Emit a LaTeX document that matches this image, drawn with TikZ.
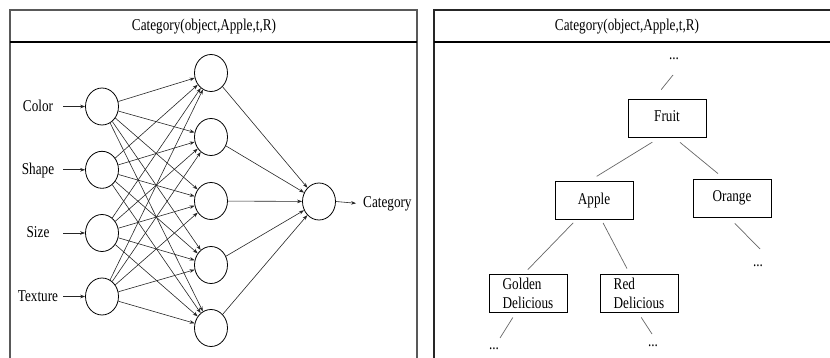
\documentclass[tikz,border=0pt]{standalone}
\usepackage{fontspec}
\setmainfont{Liberation Serif}[FakeStretch=0.8]
\usetikzlibrary{arrows.meta,shapes.geometric,positioning}

\tikzset{
  neuron/.style={draw, ellipse, minimum width=33pt, minimum height=37pt, inner sep=0pt, line width=0.8pt},
  wire/.style={-{Stealth[length=5pt,width=3.6pt]}, line width=0.6pt, black!85},
  panel/.style={draw=black!65, line width=1.2pt},
  headline/.style={line width=1.8pt},
  catbox/.style={draw, line width=0.9pt, minimum width=78pt, minimum height=38pt, inner sep=0pt},
  onebox/.style={catbox, text height=11pt, text depth=3.5pt},
  branch/.style={draw=black!60, line width=0.7pt},
  dots/.style={anchor=base, inner sep=0pt}
}

\begin{document}
\begin{tikzpicture}[x=1pt, y=-1pt, every node/.style={font=\fontsize{16.5}{19}\selectfont}]
\useasboundingbox (0,0) rectangle (830,358);

% the two panels
\draw[panel] (10,358) -- (10,10) -- (417,10) -- (417,358);
\draw[headline] (10,42) -- (417,42);
\draw[panel, draw=black!85] (434,358) -- (434,10) -- (830,10);
\draw[headline] (434,42) -- (830,42);
\node[anchor=base] (hdrNet) at (204,30.5) {Category(object,Apple,t,R)};
\node[anchor=base] (hdrTree) at (627,30.5) {Category(object,Apple,t,R)};

% neural net
\foreach \name/\y [count=\i] in {Color/106.5, Shape/169.8, Size/233, Texture/296.5} {
  \node[neuron] (in\i) at (102,\y) {};
  \node[anchor=base] (lbl\i) at (38,\y+5) {\name};
  \coordinate (tail\i) at (63,\y);
  \draw[wire] (tail\i) -- (in\i);
}
\foreach \y [count=\j] in {73,137,201,265,328}
  \node[neuron] (hid\j) at (211,\y) {};
\node[neuron] (out) at (319,201.5) {};
\node[anchor=base west, inner sep=1pt] (cat) at (362,207.5) {Category};

\foreach \i in {1,...,4}
  \foreach \j in {1,...,5}
    \draw[wire] (in\i) -- (hid\j);
\foreach \j in {1,...,5}
  \draw[wire] (hid\j) -- (out);
\draw[wire, shorten >=6pt] (out.east) -- (cat.west);

% category tree
\node[onebox] (fruit) at (667,118) {Fruit};
\node[onebox] (apple) at (594,200.5) {Apple};
\node[onebox] (orange) at (732,198) {Orange};
\node[catbox, align=left] (golden) at (528,293) {Golden\\Delicious};
\node[catbox, align=left] (red) at (639,293) {Red\\Delicious};

\node[dots] (dotsTop) at (674,60) {...};
\node[dots] (dotsOrange) at (758,266) {...};
\node[dots] (dotsGolden) at (494,349) {...};
\node[dots] (dotsRed) at (653,346) {...};
\coordinate (endTop) at (673,75);
\coordinate (endOrange) at (760,249);
\coordinate (endGolden) at (500,338);
\coordinate (endRed) at (652,334);

\draw[branch, shorten <=9pt, shorten >=9pt] ([xshift=-7pt]fruit.south) -- ([xshift=-5pt]apple.north);
\draw[branch, shorten <=7.8pt, shorten >=7.8pt] ([xshift=7pt]fruit.south) -- ([xshift=-8pt]orange.north);
\draw[branch, shorten <=4pt, shorten >=5.5pt] ([xshift=-18pt]apple.south) -- ([xshift=-4pt]golden.north);
\draw[branch, shorten <=3.4pt, shorten >=5.6pt] ([xshift=7.5pt]apple.south) -- ([xshift=-9.4pt]red.north);
\draw[branch, shorten <=11.5pt] ([xshift=-13pt]fruit.north) -- (endTop);
\draw[branch, shorten <=8.3pt] ([xshift=-3pt]orange.south) -- (endOrange);
\draw[branch, shorten <=5.9pt] ([xshift=-12pt]golden.south) -- (endGolden);
\draw[branch, shorten <=5.9pt] ([xshift=-1pt]red.south) -- (endRed);
\end{tikzpicture}
\end{document}
